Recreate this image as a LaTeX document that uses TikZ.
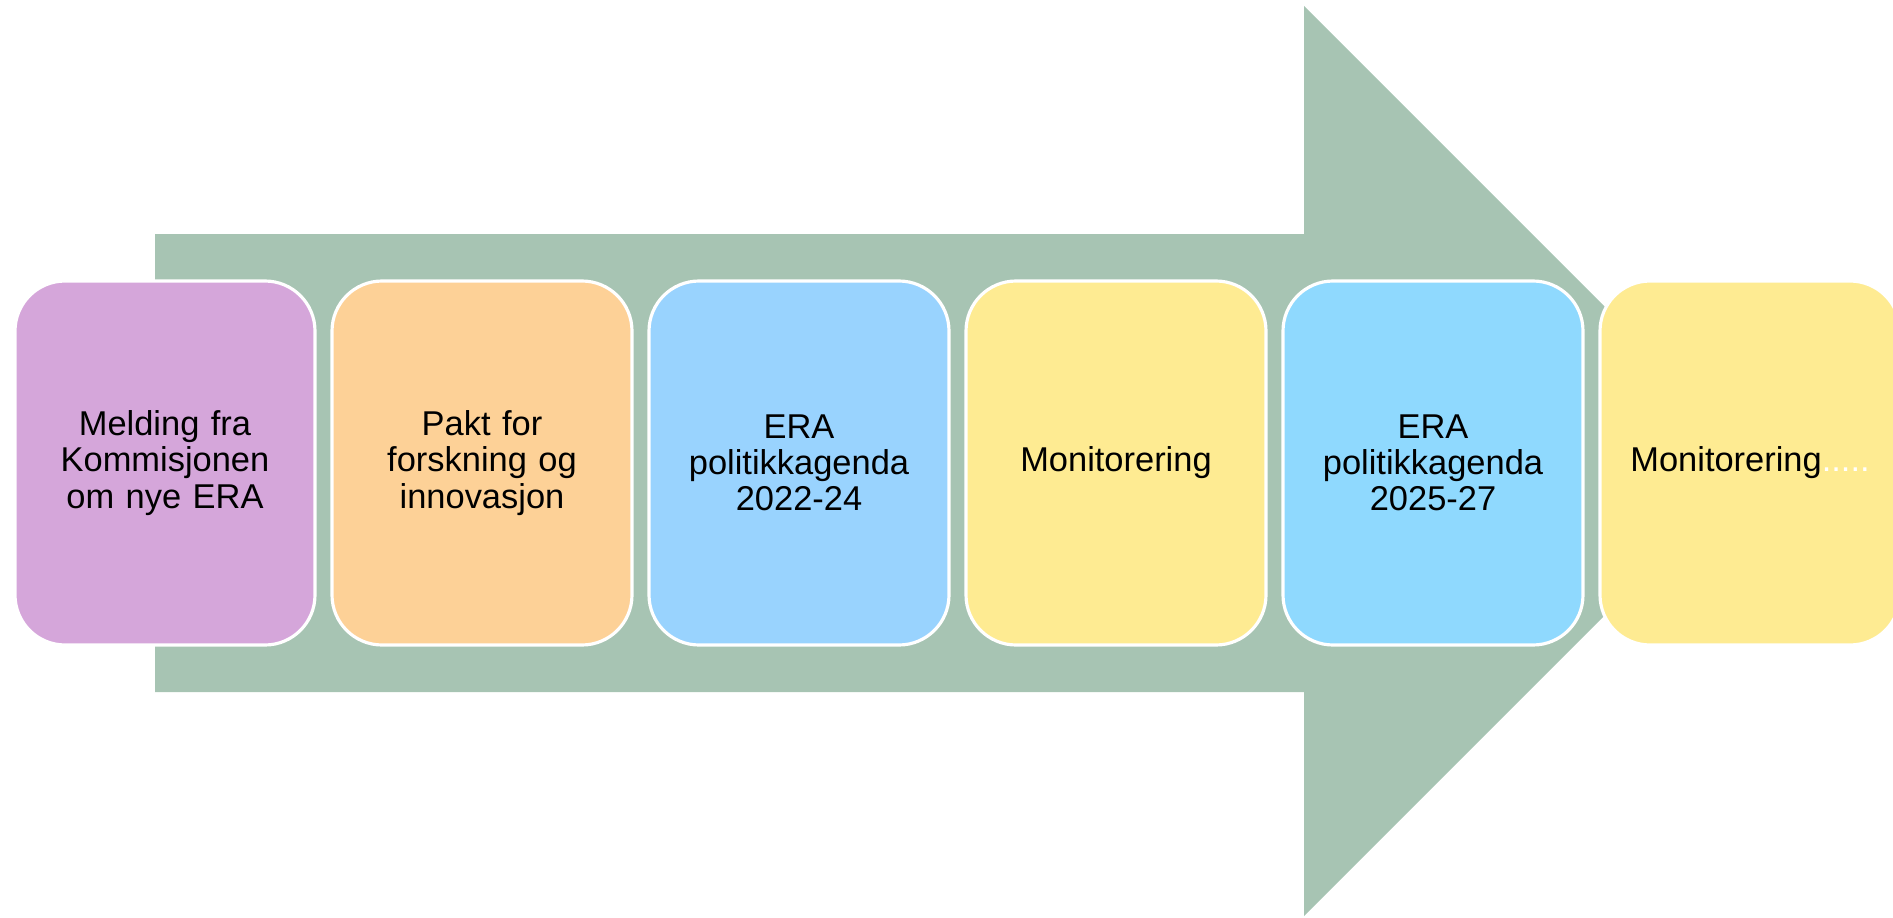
\documentclass[tikz,border=0pt]{standalone}
\usepackage{fontspec}
\setmainfont{Liberation Sans}
\usepackage{tikz}
\usetikzlibrary{positioning}
\definecolor{flecha}{HTML}{A7C4B3}
\definecolor{lila}{HTML}{D5A6DA}
\definecolor{naranja}{HTML}{FDD197}
\definecolor{azul}{HTML}{99D3FE}
\definecolor{celeste}{HTML}{8FD9FE}
\definecolor{amarillo}{HTML}{FEEB92}
\tikzset{
	node distance=3.17cm, % Distancia entre los centros de las cajas
	caja/.style={draw=white, line width=0.9pt, rounded corners=0.5cm,
		minimum width=3cm, minimum height=3.64cm, inner xsep=0pt, text width=2.9cm,
		align=center, font=\fontsize{9.8}{10.3}\selectfont}, % Propiedades de las cajas
}

\begin{document}
\begin{tikzpicture}
	\useasboundingbox (0,0) rectangle (18.93,9.17);
	% Flecha de fondo
	\fill[flecha] (1.55,6.83) -- (13.04,6.83) -- (13.04,9.11) -- (17.59,4.56)
		-- (13.04,0.01) -- (13.04,2.25) -- (1.55,2.25) -- cycle;
	\node[caja, fill=lila] (m1) at (1.65,4.54) {Melding fra\\Kommisjonen\\om nye ERA};
	\node[caja, fill=naranja, right of=m1] (m2) {Pakt for\\forskning og\\innovasjon};
	\node[caja, fill=azul, right of=m2] (m3) {ERA\\politikkagenda\\2022-24};
	\node[caja, fill=amarillo, right of=m3] (m4) {Monitorering};
	\node[caja, fill=celeste, right of=m4] (m5) {ERA\\politikkagenda\\2025-27};
	\node[caja, fill=amarillo, right of=m5] (m6) {Monitorering\textcolor{white}{.....}};
\end{tikzpicture}
\end{document}
